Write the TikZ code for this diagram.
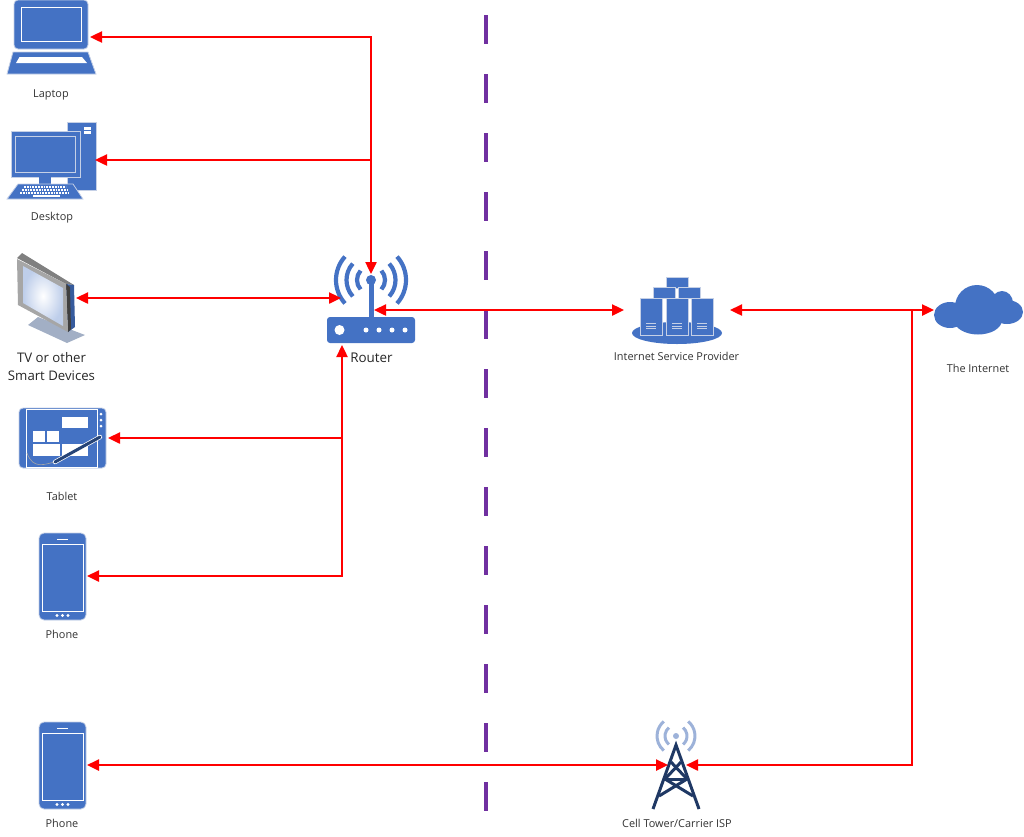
\documentclass[tikz,border=0pt]{standalone}
\usepackage{fontspec}
\setmainfont{Open Sans}
\usepackage{xcolor}
\usepackage{tikz}
\usetikzlibrary{calc}
\usetikzlibrary{arrows.meta}

\definecolor{iconblue}{HTML}{4472C4}
\definecolor{iconedge}{HTML}{C5D0E6}
\definecolor{towerblue}{HTML}{1F3864}
\definecolor{signalblue}{HTML}{9DB2D9}
\definecolor{dividepurple}{HTML}{7030A0}

\tikzset{
    iconbox/.style={inner sep=0pt, outer sep=0pt},
    link/.style={draw=red, line width=2.4pt, >={Triangle[length=12pt,width=11pt]}},
    small label/.style={text=black!80, font=\fontsize{10.9}{12}\selectfont, align=center},
    big label/.style={text=black!85, font=\fontsize{13.2}{18}\selectfont, align=center},
    solid icon/.style={fill=iconblue, draw=iconedge, line width=0.8pt},
    thin white/.style={draw=white, line width=0.8pt},
}

\newcommand{\phoneicon}[1]{
    \begin{scope}[shift={(0,#1)}]
        \draw[solid icon, rounded corners=5pt] (39,533) rectangle (86,620);
        \draw[thin white] (42.5,544) rectangle (83,611);
        \draw[white, line width=1pt] (57,539) -- (68,539);
        \foreach \x in {57,62.5,68} {
            \fill[white] (\x,615.5) circle (1.6);
        }
    \end{scope}
}

\begin{document}
\begin{tikzpicture}[x=1pt, y=1pt, yscale=-1]

    \useasboundingbox (0,0) rectangle (1024,836);

    % Invisible boxes the connectors run to
    \node[iconbox, minimum width=80pt, minimum height=74pt] (laptop) at (50,37) {};
    \node[iconbox, minimum width=88pt, minimum height=78pt] (desktop) at (51,160) {};
    \node[iconbox, minimum width=58pt, minimum height=80pt] (tv) at (47,298) {};
    \node[iconbox, minimum width=90pt, minimum height=60pt] (tablet) at (63,438) {};
    \node[iconbox, minimum width=49pt, minimum height=87pt] (phone1) at (62.5,576) {};
    \node[iconbox, minimum width=49pt, minimum height=87pt] (phone2) at (62.5,765) {};
    \node[iconbox, minimum width=106pt, minimum height=60pt] (isp) at (677,310) {};
    \node[iconbox, minimum width=88pt, minimum height=50pt] (cloud) at (978,310) {};
    \node[iconbox, minimum width=18pt, minimum height=64pt] (tower) at (677,765) {};

    \coordinate (routertop) at (371,274);
    \coordinate (routerleft) at (341,298);
    \coordinate (routerright) at (374,310);
    \coordinate (routerbottom) at (342,345);
    \coordinate (upperjoint) at (371,37);
    \coordinate (lowerjoint) at (342,576);
    \coordinate (farjoint) at (912,310);
    \coordinate (dividetop) at (486,15);
    \coordinate (dividebottom) at (486,812);

    % Laptop
    \draw[solid icon, rounded corners=4pt] (14,49) -- (14,0) -- (88,0) -- (88,49) -- cycle;
    \draw[thin white] (21,7.5) rectangle (81.5,41.5);
    \draw[solid icon] (13,52) -- (88,52) -- (96,74) -- (7,74) -- cycle;
    \fill[white] (19.5,57) -- (82,57) -- (87,63) -- (16,63) -- cycle;

    % Desktop
    \draw[solid icon] (67,122) rectangle (96,190);
    \fill[white] (84,127) rectangle (91,129.5);
    \fill[white] (84,131) rectangle (91,133.5);
    \draw[solid icon] (11,131) rectangle (80,177);
    \draw[draw=iconedge, line width=0.8pt] (15.5,136) rectangle (75,172);
    \fill[iconblue] (39,177) rectangle (51,184);
    \draw[solid icon] (18,184) -- (73,184) -- (83,199) -- (7,199) -- cycle;
    \draw[white, line width=1.5pt, dash pattern=on 1.8pt off 1pt] (24,187) -- (66,187);
    \draw[white, line width=1.5pt, dash pattern=on 1.8pt off 1pt] (22,190) -- (68,190);
    \draw[white, line width=1.5pt, dash pattern=on 1.8pt off 1pt] (20,193) -- (70,193);
    \draw[white, line width=1.2pt] (33,196) -- (60,196);

    % TV
    \fill[iconblue!45!gray!60] (28,325) -- (38,317) -- (85,335) -- (67,343) -- cycle;
    \fill[black!50] (17,258) -- (22,253) -- (74,285) -- (66,284) -- cycle;
    \fill[iconblue!80!black] (66,284) -- (74,285) -- (75,327) -- (68,332) -- cycle;
    \fill[black!75] (66,284) -- (70,287) -- (71,329) -- (68,332) -- cycle;
    \fill[black!35] (17,259) -- (66,284) -- (68,332) -- (18,305) -- cycle;
    \shade[inner color=white, outer color=iconblue!35] (23,266) -- (63,288) -- (63,326) -- (23,303) -- cycle;

    % Tablet
    \draw[solid icon, rounded corners=4pt] (19,408) rectangle (106,468);
    \draw[thin white] (26,409) -- (26,467) -- (97,467) -- (97,409) -- cycle;
    \fill[white] (62,417) rectangle (88,428);
    \fill[white] (33,431) rectangle (45,442);
    \fill[white] (47,431) rectangle (59,442);
    \fill[white] (33,444) rectangle (60,456);
    \fill[white] (62,444) rectangle (88,456);
    \foreach \y in {414,420,426} {
        \fill[white] (101,\y) circle (1.5);
    }
    \draw[draw=gray!70, line width=0.6pt] (27,453) .. controls (33,470) and (45,464) .. (55,462);
    \draw[draw=white, line width=4.4pt, line cap=round] (55,462) -- (100,437);
    \draw[draw=towerblue!80!iconblue, line width=3pt, line cap=round] (55,462) -- (100,437);

    % Phones
    \phoneicon{0}
    \phoneicon{189}

    % Router
    \fill[iconblue, rounded corners=3pt] (327,317) rectangle (415,343);
    \fill[white] (339.5,330) circle (5);
    \foreach \x in {366,379,392,405} {
        \fill[white] (\x,330) circle (2.5);
    }
    \draw[iconblue, line width=5pt] (371,280) -- (371,317);
    \fill[iconblue] (371,280) circle (5);
    \foreach \r in {14,24.5,35} {
        \draw[iconblue, line width=4.2pt] ($(371,280)+(138:\r)$) arc (138:222:\r);
        \draw[iconblue, line width=4.2pt] ($(371,280)+(42:\r)$) arc (42:-42:\r);
    }

    % Internet Service Provider
    \fill[iconblue] (677,333) ellipse (45 and 11);
    \foreach \x/\y in {666/277, 653/287, 678/287} {
        \draw[solid icon] (\x,\y) rectangle ++(22,11);
    }
    \foreach \x in {640,666,691} {
        \draw[solid icon] (\x,298) rectangle ++(22,37);
        \foreach \y in {323.5,326,328.5} {
            \draw[iconedge, line width=0.9pt] (\x+6,\y) -- ++(10,0);
        }
    }

    % The Internet
    \fill[iconblue] (950,315) ellipse (16 and 13);
    \fill[iconblue] (977,307) ellipse (22 and 22);
    \fill[iconblue] (1002,303) ellipse (11 and 12);
    \fill[iconblue] (1007,312) ellipse (16 and 12);
    \fill[iconblue] (978,320) ellipse (24 and 14.5);
    \fill[iconblue] (960,316) ellipse (12 and 11);

    % Cell tower
    \begin{scope}[towerblue, line width=3pt]
        \draw[line join=miter] (653,809) -- (676,745) -- (699,809);
        \draw (671,762) -- (687,779);
        \draw (681,762) -- (665,779);
        \draw (665,779) -- (687,779);
        \draw (665,779) -- (693,796);
        \draw (687,779) -- (659,796);
    \end{scope}
    \fill[signalblue] (676,736) circle (3);
    \foreach \r in {11,19} {
        \draw[signalblue, line width=3pt] ($(676,736)+(130:\r)$) arc (130:230:\r);
        \draw[signalblue, line width=3pt] ($(676,736)+(50:\r)$) arc (50:-50:\r);
    }

    % Labels
    \node[small label] (laptoptext) at (51,95) {Laptop};
    \node[small label] (desktoptext) at (52,218) {Desktop};
    \node[big label] (tvtext) at (51.5,367) {TV or other\\Smart Devices};
    \node[small label] (tablettext) at (62,496) {Tablet};
    \node[small label] (phone1text) at (62,634) {Phone};
    \node[small label] (phone2text) at (62,823) {Phone};
    \node[text=black!85, font=\fontsize{13.4}{15}\selectfont] (routertext) at (371.5,358) {Router};
    \node[small label] (isptext) at (676.5,356) {Internet Service Provider};
    \node[small label] (cloudtext) at (978,368) {The Internet};
    \node[small label] (towertext) at (677,823) {Cell Tower/Carrier ISP};

    % Divider goes under the connectors
    \draw[dividepurple, line width=4.4pt, dash pattern=on 29pt off 30pt] (dividetop) -- (dividebottom);

    \begin{scope}[link]
        \draw[<->] (laptop.east) -- (upperjoint) -- (routertop);
        \draw[->] (upperjoint |- desktop.east) -- (desktop.east);
        \draw[<->] (tv.east) -- (routerleft);
        \draw[<->] (routerright) -- (isp.west);
        \draw[<->] (isp.east) -- (cloud.west);
        \draw[->] (lowerjoint |- tablet.east) -- (tablet.east);
        \draw[<->] (routerbottom) -- (lowerjoint) -- (phone1.east);
        \draw[<->] (phone2.east) -- (tower.west);
        \draw[->] (farjoint) |- (tower.east);
    \end{scope}

\end{tikzpicture}
\end{document}
